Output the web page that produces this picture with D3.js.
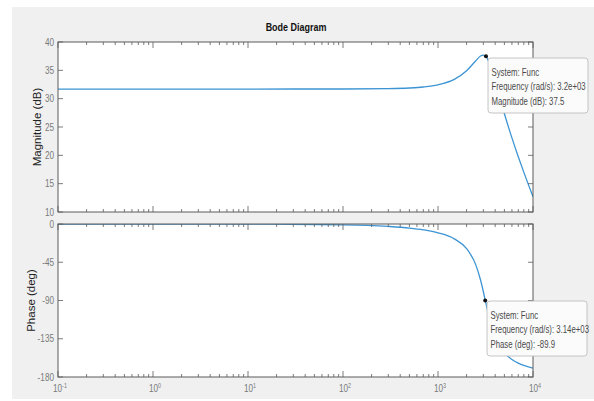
<!DOCTYPE html>
<html>
<head>
<meta charset="utf-8">
<script src="https://cdn.jsdelivr.net/npm/d3@7"></script>
<style>
  body { margin: 0; background: #fff; }
  svg { display: block; }
  .tick-label { font-family: "Liberation Sans", Arial, sans-serif; fill: #7a7a7a; font-size: 10.5px; }
  .tip { font-family: "Liberation Sans", Arial, sans-serif; fill: #4a4a4a; font-size: 10px; }
</style>
</head>
<body>
<div id="chart"></div>
<script>
// values
var freqs = [0.1, 1, 10, 100, 300, 500, 700, 1000, 1500, 2000, 2500, 2800, 3000, 3140, 3200, 3400, 3600, 4000, 4500, 5000, 6000, 7000, 8000, 10000];
var magDb = [31.7, 31.7, 31.7, 31.71, 31.77, 31.88, 32.06, 32.45, 33.45, 34.92, 36.69, 37.52, 37.68, 37.55, 37.5, 36.62, 35.54, 33.0, 29.97, 27.33, 23.08, 19.76, 17.04, 12.7];
var phaseDeg = [0, 0, -0.1, -0.95, -2.85, -4.8, -6.9, -10.4, -17.8, -29.0, -48.1, -65.6, -79.4, -89.9, -93.5, -106.4, -117.2, -132.9, -144.5, -151.5, -159.3, -163.6, -166.4, -169.7];

var magTicks = [10, 15, 20, 25, 30, 35, 40];
var phaseTicks = [0, -45, -90, -135, -180];
var decades = [-1, 0, 1, 2, 3, 4];

var magTipPoint = [3200, 37.5];
var magTipLines = ['System: Func', 'Frequency (rad/s): 3.2e+03', 'Magnitude (dB): 37.5'];
var phaseTipPoint = [3140, -89.9];
var phaseTipLines = ['System: Func', 'Frequency (rad/s): 3.14e+03', 'Phase (deg): -89.9'];

var W = 594, H = 401;
var left = 58, right = 533;
var magBox = { top: 42, bottom: 212 };
var phaseBox = { top: 224, bottom: 377 };
var lineColor = '#3d94d4', axisColor = '#5a5a5a';
var narrow = 0.78; // matlab's condensed look

var svg = d3.select('#chart')
  .append('svg')
  .attr('width', W)
  .attr('height', H);

// figure background
svg.append('rect')
  .attr('x', 12)
  .attr('y', 7)
  .attr('width', W - 12)
  .attr('height', H - 9)
  .attr('fill', '#f0f0f0');

var x = d3.scaleLog()
  .domain([0.1, 10000])
  .range([left, right]);

var yMag = d3.scaleLinear()
  .domain([10, 40])
  .range([magBox.bottom, magBox.top]);

var yPhase = d3.scaleLinear()
  .domain([-180, 0])
  .range([phaseBox.bottom, phaseBox.top]);

function place(px, py) {
  return 'translate(' + px + ',' + py + ') scale(' + narrow + ',1)';
}

// minor + major positions along x
var minorTicks = [];
decades.forEach(function (p) {
  if (p === 4) return;
  for (var k = 2; k <= 9; k++) minorTicks.push(k * Math.pow(10, p));
});
var majorTicks = decades.map(function (p) { return Math.pow(10, p); });

function drawPanel(id, box, y, ticks, values) {
  var g = svg.append('g');

  g.append('rect')
    .attr('x', left)
    .attr('y', box.top)
    .attr('width', right - left)
    .attr('height', box.bottom - box.top)
    .attr('fill', '#fff');

  g.append('clipPath')
    .attr('id', id)
    .append('rect')
    .attr('x', left)
    .attr('y', box.top)
    .attr('width', right - left)
    .attr('height', box.bottom - box.top);

  var line = d3.line()
    .x(function (d, i) { return x(freqs[i]); })
    .y(function (d) { return y(d); })
    .curve(d3.curveMonotoneX);

  g.append('path')
    .datum(values)
    .attr('clip-path', 'url(#' + id + ')')
    .attr('fill', 'none')
    .attr('stroke', lineColor)
    .attr('stroke-width', 1.3)
    .attr('d', line);

  // inward ticks along top and bottom
  [box.top, box.bottom].forEach(function (yy, j) {
    var dir = j === 0 ? 1 : -1;
    g.selectAll('.minor' + j)
      .data(minorTicks)
      .enter()
      .append('line')
      .attr('x1', function (d) { return x(d); })
      .attr('x2', function (d) { return x(d); })
      .attr('y1', yy)
      .attr('y2', yy + dir * 3)
      .attr('stroke', axisColor)
      .attr('stroke-width', 0.8);
    g.selectAll('.major' + j)
      .data(majorTicks)
      .enter()
      .append('line')
      .attr('x1', function (d) { return x(d); })
      .attr('x2', function (d) { return x(d); })
      .attr('y1', yy)
      .attr('y2', yy + dir * 6)
      .attr('stroke', axisColor)
      .attr('stroke-width', 0.8);
  });

  // inward ticks on left and right
  g.selectAll('.ytick')
    .data(ticks)
    .enter()
    .append('path')
    .attr('d', function (d) {
      var yy = y(d);
      return 'M' + left + ',' + yy + 'h5M' + right + ',' + yy + 'h-5';
    })
    .attr('stroke', axisColor)
    .attr('stroke-width', 0.8);

  g.selectAll('.ylabel')
    .data(ticks)
    .enter()
    .append('text')
    .attr('class', 'tick-label')
    .attr('transform', function (d) { return place(left - 4, y(d)); })
    .attr('dy', '0.35em')
    .attr('text-anchor', 'end')
    .text(function (d) { return d; });

  g.append('rect')
    .attr('x', left)
    .attr('y', box.top)
    .attr('width', right - left)
    .attr('height', box.bottom - box.top)
    .attr('fill', 'none')
    .attr('stroke', axisColor)
    .attr('stroke-width', 1);

  return g;
}

drawPanel('clipMag', magBox, yMag, magTicks, magDb);
drawPanel('clipPhase', phaseBox, yPhase, phaseTicks, phaseDeg);

// x tick labels 10^n
var xl = svg.selectAll('.xlabel')
  .data(decades)
  .enter()
  .append('text')
  .attr('class', 'tick-label')
  .attr('transform', function (d) { return place(x(Math.pow(10, d)) + 2, 392); })
  .attr('text-anchor', 'middle');
xl.append('tspan').text('10');
xl.append('tspan')
  .attr('dy', -4)
  .attr('font-size', '7px')
  .text(function (d) { return d; });

// titles
svg.append('text')
  .attr('transform', place(296, 31))
  .attr('text-anchor', 'middle')
  .attr('font-family', '"Liberation Sans", Arial, sans-serif')
  .attr('font-weight', 'bold')
  .attr('font-size', '11.5px')
  .attr('fill', '#111')
  .text('Bode Diagram');

svg.append('text')
  .attr('transform', 'translate(41,' + (magBox.top + magBox.bottom) / 2 + ') rotate(-90)')
  .attr('text-anchor', 'middle')
  .attr('font-family', '"Liberation Sans", Arial, sans-serif')
  .attr('font-size', '11.5px')
  .attr('fill', '#222')
  .text('Magnitude (dB)');

svg.append('text')
  .attr('transform', 'translate(35,' + (phaseBox.top + phaseBox.bottom) / 2 + ') rotate(-90)')
  .attr('text-anchor', 'middle')
  .attr('font-family', '"Liberation Sans", Arial, sans-serif')
  .attr('font-size', '11.5px')
  .attr('fill', '#222')
  .text('Phase (deg)');

// data tips
function drawTip(px, py, bx, by, lines) {
  svg.append('rect')
    .attr('x', bx)
    .attr('y', by)
    .attr('width', 100)
    .attr('height', 55)
    .attr('rx', 3)
    .attr('fill', '#fbfbfb')
    .attr('stroke', '#b8b8b8')
    .attr('stroke-width', 0.8);
  svg.selectAll(null)
    .data(lines)
    .enter()
    .append('text')
    .attr('class', 'tip')
    .attr('transform', function (d, i) { return place(bx + 3.5, by + 17.5 + i * 14.5); })
    .text(function (d) { return d; });
  svg.append('circle')
    .attr('cx', px)
    .attr('cy', py)
    .attr('r', 2)
    .attr('fill', '#111');
}

drawTip(x(magTipPoint[0]), yMag(magTipPoint[1]), 488, 58, magTipLines);
drawTip(x(phaseTipPoint[0]), yPhase(phaseTipPoint[1]), 487, 301, phaseTipLines);
</script>
</body>
</html>
